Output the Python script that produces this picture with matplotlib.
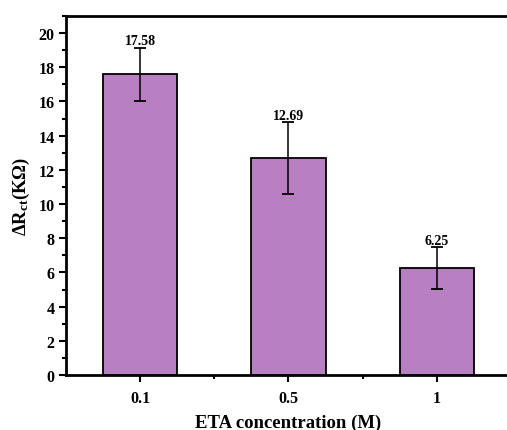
import matplotlib
matplotlib.use("Agg")
import matplotlib.pyplot as plt
import numpy as np
from matplotlib.ticker import MultipleLocator

categories = ["0.1", "0.5", "1"]
values = [17.58, 12.69, 6.25]
errors = [1.55, 2.1, 1.22]
value_labels = ["17.58", "12.69", "6.25"]

plt.rcParams['font.family'] = ['Liberation Serif', 'DejaVu Serif']
plt.rcParams['mathtext.fontset'] = 'custom'
plt.rcParams['mathtext.rm'] = 'Liberation Serif:bold'
plt.rcParams['mathtext.bf'] = 'Liberation Serif:bold'
plt.rcParams['mathtext.it'] = 'Liberation Serif:bold:italic'

fig = plt.figure(figsize=(5.07, 4.31), dpi=100)
ax = fig.add_axes([0.130, 0.1276, 1.008 - 0.130, 0.9606 - 0.1276])

x = np.arange(len(categories))
ax.bar(x, values, width=0.5, color='#B97FC3', edgecolor='black', linewidth=1.3, zorder=2)
ax.errorbar(x, values, yerr=errors, fmt='none', ecolor='black', elinewidth=1.1,
            capsize=4, capthick=1.3, zorder=3)
for xi, v, e, lab in zip(x, values, errors, value_labels):
    ax.text(xi, v + e + 0.03, lab, ha='center', va='bottom', fontsize=10, fontweight='bold')

ax.set_xlim(-0.5, 2.5)
ax.set_ylim(0, 21)
ax.set_xticks(x)
ax.set_xticklabels(categories)
ax.set_xticks([0.5, 1.5], minor=True)
ax.yaxis.set_major_locator(MultipleLocator(2))
ax.yaxis.set_minor_locator(MultipleLocator(1))

for s in ['left', 'bottom', 'top', 'right']:
    ax.spines[s].set_linewidth(2)

ax.tick_params(axis='both', which='major', direction='out', length=5, width=1.5, labelsize=11.5)
ax.tick_params(axis='both', which='minor', direction='out', length=3, width=1.5)
ax.tick_params(axis='x', which='major', pad=6)
ax.tick_params(axis='y', which='major', pad=3)
for lab in ax.get_xticklabels() + ax.get_yticklabels():
    lab.set_fontweight('bold')

ax.set_xlabel('ETA concentration (M)', fontsize=13.5, fontweight='bold', labelpad=5)
ax.set_ylabel(r'$\mathrm{\Delta R_{ct}(K\Omega)}$', fontsize=13.5, labelpad=5)

fig.savefig('out.png', dpi=100)
